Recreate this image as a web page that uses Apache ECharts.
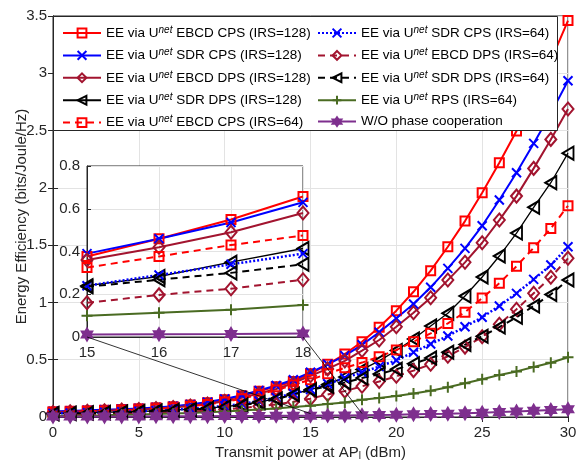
<!DOCTYPE html>
<html>
<head>
<meta charset="utf-8">
<script src="https://cdn.jsdelivr.net/npm/echarts@6/dist/echarts.min.js"></script>
<style>html,body{margin:0;padding:0;background:#fff}#c{width:579px;height:465px}</style>
</head>
<body>
<div id="c"></div>
<script>
// ---- data ----
const xVals = [0,1,2,3,4,5,6,7,8,9,10,11,12,13,14,15,16,17,18,19,20,21,22,23,24,25,26,27,28,29,30];
const ebcdCps128 = [0.045,0.05,0.055,0.06,0.065,0.072,0.08,0.09,0.105,0.125,0.15,0.185,0.225,0.265,0.31,0.377,0.46,0.55,0.657,0.783,0.928,1.093,1.277,1.486,1.71,1.957,2.219,2.496,2.79,3.11,3.46];
const sdrCps128  = [0.048,0.053,0.058,0.063,0.068,0.075,0.083,0.094,0.11,0.13,0.157,0.19,0.232,0.275,0.325,0.39,0.46,0.536,0.63,0.74,0.861,0.986,1.132,1.297,1.472,1.669,1.894,2.132,2.388,2.65,2.935];
const ebcdDps128 = [0.04,0.045,0.05,0.055,0.06,0.066,0.073,0.082,0.095,0.113,0.137,0.168,0.205,0.245,0.295,0.36,0.42,0.49,0.58,0.672,0.788,0.91,1.041,1.195,1.35,1.521,1.719,1.928,2.17,2.423,2.688];
const sdrDps128  = [0.03,0.033,0.036,0.04,0.044,0.048,0.053,0.06,0.068,0.078,0.09,0.107,0.13,0.16,0.2,0.24,0.283,0.35,0.414,0.49,0.58,0.68,0.795,0.905,1.056,1.222,1.405,1.605,1.83,2.045,2.303];
const ebcdCps64  = [0.04,0.044,0.048,0.053,0.058,0.064,0.071,0.08,0.093,0.11,0.132,0.16,0.195,0.235,0.28,0.325,0.377,0.43,0.475,0.526,0.585,0.657,0.73,0.817,0.915,1.038,1.167,1.316,1.477,1.646,1.844];
const sdrCps64   = [0.032,0.035,0.038,0.042,0.046,0.05,0.056,0.063,0.072,0.083,0.097,0.115,0.14,0.17,0.205,0.24,0.29,0.34,0.39,0.44,0.495,0.565,0.637,0.707,0.788,0.87,0.969,1.079,1.201,1.326,1.486];
const ebcdDps64  = [0.02,0.022,0.024,0.027,0.03,0.033,0.037,0.042,0.048,0.056,0.066,0.078,0.093,0.11,0.133,0.16,0.197,0.226,0.268,0.31,0.355,0.405,0.46,0.53,0.61,0.70,0.81,0.94,1.08,1.22,1.385];
const sdrDps64   = [0.028,0.031,0.034,0.037,0.041,0.045,0.05,0.056,0.064,0.074,0.086,0.102,0.125,0.155,0.195,0.235,0.268,0.30,0.34,0.375,0.416,0.465,0.515,0.565,0.632,0.705,0.785,0.87,0.969,1.07,1.195];
const rps64      = [0.01,0.012,0.014,0.016,0.019,0.022,0.026,0.03,0.035,0.041,0.048,0.056,0.065,0.075,0.087,0.099,0.113,0.127,0.15,0.165,0.183,0.205,0.23,0.259,0.294,0.329,0.366,0.398,0.437,0.474,0.522];
const woPhase    = [0.004,0.004,0.004,0.005,0.005,0.005,0.006,0.006,0.007,0.007,0.008,0.009,0.009,0.01,0.011,0.012,0.013,0.014,0.016,0.018,0.02,0.023,0.026,0.029,0.033,0.038,0.043,0.049,0.055,0.061,0.067];
const seriesNames = [
  'EE via U^net EBCD CPS (IRS=128)',
  'EE via U^net SDR CPS (IRS=128)',
  'EE via U^net EBCD DPS (IRS=128)',
  'EE via U^net SDR DPS (IRS=128)',
  'EE via U^net EBCD CPS (IRS=64)',
  'EE via U^net SDR CPS (IRS=64)',
  'EE via U^net EBCD DPS (IRS=64)',
  'EE via U^net SDR DPS (IRS=64)',
  'EE via U^net RPS (IRS=64)',
  'W/O phase cooperation'
];
const mainYTicks = [0, 3.5, 0.5];
const mainXTicks = [0, 30, 5];
const insetX = [15, 18, 1];
const insetY = [0, 0.8, 0.2];
const zoomTarget = [[15, 0.03], [18, 0.03]];

// ---- styles ----
const allData = [ebcdCps128, sdrCps128, ebcdDps128, sdrDps128, ebcdCps64, sdrCps64, ebcdDps64, sdrDps64, rps64, woPhase];
const SYM_X = 'path://M0,0L10,10M10,0L0,10';
const SYM_PLUS = 'path://M5,0L5,10M0,5L10,5';
const SYM_TRI = 'path://M10,0L0,5L10,10Z';
const SYM_HEX = 'path://M5,0L9.33,7.5L0.67,7.5Z M5,10L0.67,2.5L9.33,2.5Z';
const DR = '#a2142f', GR = '#4a6b22', PU = '#7e2f8e';
const styles = [
  {c:'#ff0000', t:'solid', w:2, s:'rect', sz:9, fill:false},
  {c:'#0000ff', t:'solid', w:2, s:SYM_X, sz:9, fill:false},
  {c:DR, t:'solid', w:2, s:'diamond', sz:[11,13], fill:false},
  {c:'#000000', t:'solid', w:1.3, s:SYM_TRI, sz:[11,13], fill:false},
  {c:'#ff0000', t:[7,5], w:2, s:'rect', sz:9, fill:false},
  {c:'#0000ff', t:[2,2], w:2.5, s:SYM_X, sz:9, fill:false},
  {c:DR, t:[7,5], w:2, s:'diamond', sz:[11,13], fill:false},
  {c:'#000000', t:[7,5], w:2, s:SYM_TRI, sz:[11,13], fill:false},
  {c:GR, t:'solid', w:2, s:SYM_PLUS, sz:11, fill:false},
  {c:PU, t:'solid', w:2, s:SYM_HEX, sz:12, fill:true}
];
const FONT = 'Liberation Sans, Arial, Helvetica, sans-serif';
const TXT = '#262626';

function mkSeries(i, xi, yi, data, z, named) {
  const st = styles[i];
  return {
    type: 'line',
    name: named ? seriesNames[i] : ('inset' + i),
    xAxisIndex: xi, yAxisIndex: yi,
    data: data,
    z: z,
    symbol: st.s, symbolSize: st.sz, symbolKeepAspect: true,
    showAllSymbol: true,
    lineStyle: {color: st.c, width: st.w, type: st.t},
    itemStyle: {color: st.fill ? st.c : 'rgba(0,0,0,0)', borderColor: st.c, borderWidth: 2, borderType: 'solid'},
    emphasis: {disabled: true},
    animation: false,
    clip: true
  };
}
const series = [];
for (let i = 0; i < allData.length; i++) {
  series.push(mkSeries(i, 0, 0, xVals.map((x, k) => [x, allData[i][k]]), 2, true));
}
for (let i = 0; i < allData.length; i++) {
  const pts = [];
  xVals.forEach((x, k) => { if (x >= insetX[0] && x <= insetX[1]) pts.push([x, allData[i][k]]); });
  series.push(mkSeries(i, 1, 1, pts, 6, false));
}

const richLegend = {sup: {fontSize: 10, fontStyle: 'italic', fontFamily: FONT, color: '#000', verticalAlign: 'top', padding: [0, 0, 6, 0]}};
function legendFmt(n) { return n.replace('U^net', 'U{sup|net}'); }
function mkLegend(names, left) {
  return {
    data: names, left: left, top: 20, orient: 'vertical',
    itemWidth: 38, itemHeight: 11, itemGap: 7.4,
    textStyle: {fontFamily: FONT, fontSize: 13.5, color: '#000', rich: richLegend},
    formatter: legendFmt, selectedMode: false, z: 20
  };
}

const axisLine = {show: true, lineStyle: {color: TXT, width: 1}};
const option = {
  backgroundColor: '#fff',
  animation: false,
  grid: [
    {left: 53, right: 11, top: 16, bottom: 48, containLabel: false, outerBoundsMode: 'none', show: true, borderColor: TXT, borderWidth: 1, backgroundColor: '#fff', z: 0},
    {left: 87, right: 276, top: 166, bottom: 128, containLabel: false, outerBoundsMode: 'none', show: true, borderColor: TXT, borderWidth: 1, backgroundColor: '#fff', z: 4}
  ],
  xAxis: [
    {type: 'value', gridIndex: 0, min: mainXTicks[0], max: mainXTicks[1], interval: mainXTicks[2],
     name: 'Transmit power at AP{sub|l} (dBm)', nameLocation: 'middle', nameGap: 26,
     nameTextStyle: {fontFamily: FONT, fontSize: 15, color: TXT, rich: {sub: {fontSize: 10, fontFamily: FONT, color: TXT, verticalAlign: 'bottom', padding: [8, 0, 0, 0]}}},
     axisLine: axisLine, axisTick: {inside: true, length: 5, lineStyle: {color: TXT}},
     axisLabel: {fontFamily: FONT, fontSize: 15, color: TXT, margin: 8},
     splitLine: {show: true, lineStyle: {color: '#e3e3e3', width: 1}}},
    {type: 'value', gridIndex: 1, min: insetX[0], max: insetX[1], interval: insetX[2], z: 6,
     axisLine: axisLine, axisTick: {inside: true, length: 4, lineStyle: {color: TXT}},
     axisLabel: {fontFamily: FONT, fontSize: 15, color: TXT, margin: 8},
     splitLine: {show: true, lineStyle: {color: '#e3e3e3', width: 1}}},
    {type: 'value', gridIndex: 0, position: 'top', min: mainXTicks[0], max: mainXTicks[1], interval: mainXTicks[2],
     axisLine: axisLine, axisTick: {inside: true, length: 5, lineStyle: {color: TXT}}, axisLabel: {show: false}, splitLine: {show: false}}
  ],
  yAxis: [
    {type: 'value', gridIndex: 0, min: mainYTicks[0], max: mainYTicks[1], interval: mainYTicks[2],
     name: 'Energy Efficiency (bits/Joule/Hz)', nameLocation: 'middle', nameGap: 24, nameMoveOverlap: false,
     nameTextStyle: {fontFamily: FONT, fontSize: 15, color: TXT},
     axisLine: axisLine, axisTick: {inside: true, length: 5, lineStyle: {color: TXT}},
     axisLabel: {fontFamily: FONT, fontSize: 15, color: TXT, margin: 6},
     splitLine: {show: true, lineStyle: {color: '#e3e3e3', width: 1}}},
    {type: 'value', gridIndex: 1, min: insetY[0], max: insetY[1], interval: insetY[2], z: 6,
     axisLine: axisLine, axisTick: {inside: true, length: 4, lineStyle: {color: TXT}},
     axisLabel: {fontFamily: FONT, fontSize: 15, color: TXT, margin: 7},
     splitLine: {show: true, lineStyle: {color: '#e3e3e3', width: 1}}},
    {type: 'value', gridIndex: 0, position: 'right', min: mainYTicks[0], max: mainYTicks[1], interval: mainYTicks[2],
     axisLine: axisLine, axisTick: {inside: true, length: 5, lineStyle: {color: TXT}}, axisLabel: {show: false}, splitLine: {show: false}}
  ],
  legend: [mkLegend(seriesNames.slice(0, 5), 57), mkLegend(seriesNames.slice(5), 312)],
  series: series
};

const chart = echarts.init(document.getElementById('c'), null, {renderer: 'canvas'});
chart.setOption(option);

// zoom connector lines and legend box
const a0 = chart.convertToPixel({xAxisIndex: 1, yAxisIndex: 1}, [insetX[0], insetY[0]]);
const a1 = chart.convertToPixel({xAxisIndex: 1, yAxisIndex: 1}, [insetX[1], insetY[0]]);
const b0 = chart.convertToPixel({xAxisIndex: 0, yAxisIndex: 0}, zoomTarget[0]);
const b1 = chart.convertToPixel({xAxisIndex: 0, yAxisIndex: 0}, zoomTarget[1]);
const tl = chart.convertToPixel({xAxisIndex: 0, yAxisIndex: 0}, [mainXTicks[0], mainYTicks[1]]);
chart.setOption({
  graphic: [
    {type: 'line', z: 8, shape: {x1: a0[0], y1: a0[1], x2: b0[0], y2: b0[1]}, style: {stroke: '#000', lineWidth: 0.8}, silent: true},
    {type: 'line', z: 8, shape: {x1: a1[0], y1: a1[1], x2: b1[0], y2: b1[1]}, style: {stroke: '#000', lineWidth: 0.8}, silent: true},
    {type: 'rect', z: 15, shape: {x: tl[0] + 0.5, y: tl[1] + 0.5, width: 504, height: 114}, style: {fill: '#fff', stroke: '#262626', lineWidth: 1}, silent: true}
  ]
});
</script>
</body>
</html>
